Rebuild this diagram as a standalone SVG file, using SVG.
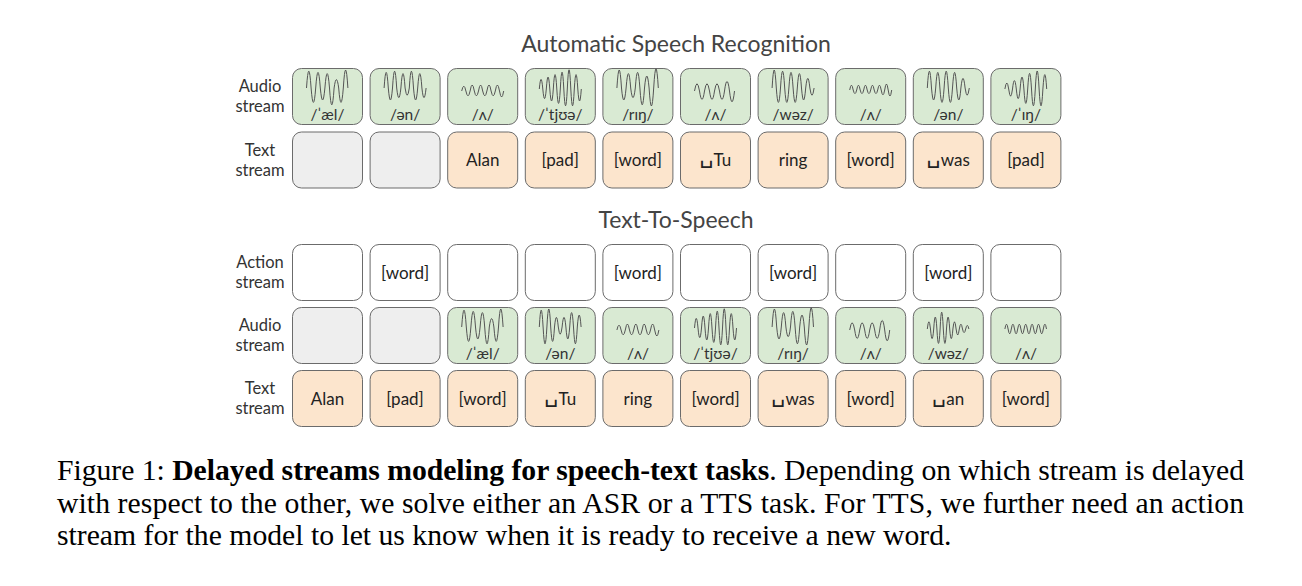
<svg xmlns="http://www.w3.org/2000/svg" xmlns:xlink="http://www.w3.org/1999/xlink" width="1302" height="586" viewBox="0 0 1302 586">
<style>
.box{stroke:#6b6b6b;stroke-width:1}
.g{fill:#d9ead3}.e{fill:#eeeeee}.o{fill:#fce5cd}.w{fill:#ffffff}
.t{font-family:Lato,"DejaVu Sans",sans-serif;font-size:17px;fill:#222;text-anchor:middle}
.sp{font-family:"DejaVu Sans",sans-serif;font-size:22px}
.ipa{font-family:Lato,"DejaVu Sans",sans-serif;font-size:15.5px;fill:#333;text-anchor:middle}
.lbl{font-family:Lato,"DejaVu Sans",sans-serif;font-size:16.5px;fill:#333;text-anchor:middle}
.title{font-family:Lato,"DejaVu Sans",sans-serif;font-size:23px;fill:#444;text-anchor:middle}
.wv{fill:none;stroke:#555;stroke-width:1;vector-effect:non-scaling-stroke}
.cap{font-family:"Liberation Serif","Times New Roman",serif;font-size:29.7px;fill:#000}
</style>
<defs>
<path id="w1" class="wv" d="M0,0 q2.3,-28 4.6,0 q2.3,24 4.6,0 q2.3,-26 4.6,0 q2.3,20 4.6,0 q2.3,-24 4.6,0 q2.3,28 4.6,0 q2.3,-14 4.6,0 q2.3,24 4.6,0 q2.3,-30 4.6,0"/>
<path id="w2" class="wv" d="M0,0 q2.1,-26 4.2,0 q2.1,20 4.2,0 q2.1,-28 4.2,0 q2.1,16 4.2,0 q2.1,-24 4.2,0 q2.1,12 4.2,0 q2.1,-28 4.2,0 q2.1,20 4.2,0 q2.1,-24 4.2,0 q2.1,16 4.2,0"/>
<path id="w3" class="wv" d="M0,0 q2.1,-8 4.2,0 q2.1,8 4.2,0 q2.1,-10 4.2,0 q2.1,8 4.2,0 q2.1,-10 4.2,0 q2.1,8 4.2,0 q2.1,-10 4.2,0 q2.1,8 4.2,0 q2.1,-10 4.2,0 q2.1,10 4.2,0"/>
<path id="w4" class="wv" d="M0,0 q1.75,-16 3.5,0 q1.75,16 3.5,0 q1.75,-20 3.5,0 q1.75,20 3.5,0 q1.75,-24 3.5,0 q1.75,24 3.5,0 q1.75,-28 3.5,0 q1.75,28 3.5,0 q1.75,-32 3.5,0 q1.75,28 3.5,0 q1.75,-24 3.5,0 q1.75,20 3.5,0"/>
<path id="w5" class="wv" d="M0,0 q2.3,-30 4.6,0 q2.3,20 4.6,0 q2.3,-24 4.6,0 q2.3,16 4.6,0 q2.3,-26 4.6,0 q2.3,28 4.6,0 q2.3,-20 4.6,0 q2.3,30 4.6,0 q2.3,-32 4.6,0"/>
<path id="w6" class="wv" d="M0,0 q2.5,-12 5,0 q2.5,14 5,0 q2.5,-12 5,0 q2.5,14 5,0 q2.5,-12 5,0 q2.5,14 5,0 q2.5,-16 5,0 q2.5,18 5,0"/>
<path id="w7" class="wv" d="M0,0 q2.1,-30 4.2,0 q2.1,24 4.2,0 q2.1,-28 4.2,0 q2.1,24 4.2,0 q2.1,-26 4.2,0 q2.1,24 4.2,0 q2.1,-24 4.2,0 q2.1,20 4.2,0 q2.1,-16 4.2,0 q2.1,12 4.2,0"/>
<path id="w8" class="wv" d="M0,0 q1.75,-8 3.5,0 q1.75,6 3.5,0 q1.75,-8 3.5,0 q1.75,6 3.5,0 q1.75,-8 3.5,0 q1.75,6 3.5,0 q1.75,-8 3.5,0 q1.75,6 3.5,0 q1.75,-8 3.5,0 q1.75,8 3.5,0 q1.75,-10 3.5,0 q1.75,10 3.5,0"/>
<path id="w9" class="wv" d="M0,0 q2.1,-28 4.2,0 q2.1,20 4.2,0 q2.1,-26 4.2,0 q2.1,24 4.2,0 q2.1,-28 4.2,0 q2.1,24 4.2,0 q2.1,-26 4.2,0 q2.1,20 4.2,0 q2.1,-16 4.2,0 q2.1,12 4.2,0"/>
<path id="w10" class="wv" d="M0,0 q1.9,-10 3.8,0 q1.9,12 3.8,0 q1.9,-14 3.8,0 q1.9,16 3.8,0 q1.9,-20 3.8,0 q1.9,24 3.8,0 q1.9,-26 3.8,0 q1.9,28 3.8,0 q1.9,-30 3.8,0 q1.9,28 3.8,0 q1.9,-24 3.8,0"/>
<path id="t4" class="wv" d="M0,0 q1.9,-28 3.8,0 q1.9,28 3.8,0 q1.9,-30 3.8,0 q1.9,24 3.8,0 q1.9,-16 3.8,0 q1.9,12 3.8,0 q1.9,-16 3.8,0 q1.9,20 3.8,0 q1.9,-24 3.8,0 q1.9,28 3.8,0 q1.9,-20 3.8,0"/>
<path id="t9" class="wv" d="M0,0 q1.6,-12 3.2,0 q1.6,16 3.2,0 q1.6,-20 3.2,0 q1.6,24 3.2,0 q1.6,-28 3.2,0 q1.6,24 3.2,0 q1.6,-20 3.2,0 q1.6,16 3.2,0 q1.6,-12 3.2,0 q1.6,10 3.2,0 q1.6,-8 3.2,0 q1.6,6 3.2,0 q1.6,-6 3.2,0"/>
<path id="t10" class="wv" d="M0,0 q1.6,-8 3.2,0 q1.6,8 3.2,0 q1.6,-8 3.2,0 q1.6,8 3.2,0 q1.6,-8 3.2,0 q1.6,8 3.2,0 q1.6,-8 3.2,0 q1.6,8 3.2,0 q1.6,-8 3.2,0 q1.6,8 3.2,0 q1.6,-8 3.2,0 q1.6,8 3.2,0 q1.6,-8 3.2,0"/>
</defs>
<rect width="1302" height="586" fill="#ffffff"/>

<text class="title" x="676" y="52">Automatic Speech Recognition</text>
<text class="title" x="676" y="228">Text-To-Speech</text>

<g id="labels">
<text class="lbl" x="260" y="92">Audio</text><text class="lbl" x="260" y="112">stream</text>
<text class="lbl" x="260" y="156">Text</text><text class="lbl" x="260" y="176">stream</text>
<text class="lbl" x="260" y="268">Action</text><text class="lbl" x="260" y="288">stream</text>
<text class="lbl" x="260" y="331">Audio</text><text class="lbl" x="260" y="351">stream</text>
<text class="lbl" x="260" y="394">Text</text><text class="lbl" x="260" y="414">stream</text>
</g>

<!-- ASR audio row -->
<g id="asr-audio-1"><rect class="box g" x="292.5" y="68.5" width="70" height="56" rx="9"/><use xlink:href="#w1" transform="translate(306.5,88) scale(1,1.2)"/><text class="ipa" x="327.5" y="120">/ˈæl/</text></g>
<g id="asr-audio-2"><rect class="box g" x="370.1" y="68.5" width="70" height="56" rx="9"/><use xlink:href="#w2" transform="translate(384.1,88) scale(1,1.2)"/><text class="ipa" x="405.1" y="120">/ən/</text></g>
<g id="asr-audio-3"><rect class="box g" x="447.7" y="68.5" width="70" height="56" rx="9"/><use xlink:href="#w3" transform="translate(461.7,91) scale(1,1.2)"/><text class="ipa" x="482.7" y="120">/ʌ/</text></g>
<g id="asr-audio-4"><rect class="box g" x="525.3" y="68.5" width="70" height="56" rx="9"/><use xlink:href="#w4" transform="translate(539.3,89) scale(1,1.2)"/><text class="ipa" x="560.3" y="120">/ˈtjʊə/</text></g>
<g id="asr-audio-5"><rect class="box g" x="602.9" y="68.5" width="70" height="56" rx="9"/><use xlink:href="#w5" transform="translate(616.9,88) scale(1,1.2)"/><text class="ipa" x="637.9" y="120">/rɪŋ/</text></g>
<g id="asr-audio-6"><rect class="box g" x="680.5" y="68.5" width="70" height="56" rx="9"/><use xlink:href="#w6" transform="translate(694.5,91) scale(1,1.2)"/><text class="ipa" x="715.5" y="120">/ʌ/</text></g>
<g id="asr-audio-7"><rect class="box g" x="758.1" y="68.5" width="70" height="56" rx="9"/><use xlink:href="#w7" transform="translate(772.1,88) scale(1,1.2)"/><text class="ipa" x="793.1" y="120">/wəz/</text></g>
<g id="asr-audio-8"><rect class="box g" x="835.7" y="68.5" width="70" height="56" rx="9"/><use xlink:href="#w8" transform="translate(849.7,90) scale(1,1.2)"/><text class="ipa" x="870.7" y="120">/ʌ/</text></g>
<g id="asr-audio-9"><rect class="box g" x="913.3" y="68.5" width="70" height="56" rx="9"/><use xlink:href="#w9" transform="translate(927.3,88) scale(1,1.2)"/><text class="ipa" x="948.3" y="120">/ən/</text></g>
<g id="asr-audio-10"><rect class="box g" x="990.9" y="68.5" width="70" height="56" rx="9"/><use xlink:href="#w10" transform="translate(1004.9,89) scale(1,1.2)"/><text class="ipa" x="1025.9" y="120">/ˈɪŋ/</text></g>

<!-- ASR text row -->
<g id="asr-text-1"><rect class="box e" x="292.5" y="132" width="70" height="56" rx="9"/></g>
<g id="asr-text-2"><rect class="box e" x="370.1" y="132" width="70" height="56" rx="9"/></g>
<g id="asr-text-3"><rect class="box o" x="447.7" y="132" width="70" height="56" rx="9"/><text class="t" x="482.7" y="166">Alan</text></g>
<g id="asr-text-4"><rect class="box o" x="525.3" y="132" width="70" height="56" rx="9"/><text class="t" x="560.3" y="166">[pad]</text></g>
<g id="asr-text-5"><rect class="box o" x="602.9" y="132" width="70" height="56" rx="9"/><text class="t" x="637.9" y="166">[word]</text></g>
<g id="asr-text-6"><rect class="box o" x="680.5" y="132" width="70" height="56" rx="9"/><text class="t" x="715.5" y="166"><tspan class="sp" dy="-3">␣</tspan><tspan dy="3">Tu</tspan></text></g>
<g id="asr-text-7"><rect class="box o" x="758.1" y="132" width="70" height="56" rx="9"/><text class="t" x="793.1" y="166">ring</text></g>
<g id="asr-text-8"><rect class="box o" x="835.7" y="132" width="70" height="56" rx="9"/><text class="t" x="870.7" y="166">[word]</text></g>
<g id="asr-text-9"><rect class="box o" x="913.3" y="132" width="70" height="56" rx="9"/><text class="t" x="948.3" y="166"><tspan class="sp" dy="-3">␣</tspan><tspan dy="3">was</tspan></text></g>
<g id="asr-text-10"><rect class="box o" x="990.9" y="132" width="70" height="56" rx="9"/><text class="t" x="1025.9" y="166">[pad]</text></g>

<!-- TTS action row -->
<g id="tts-action-1"><rect class="box w" x="292.5" y="244.5" width="70" height="56" rx="9"/></g>
<g id="tts-action-2"><rect class="box w" x="370.1" y="244.5" width="70" height="56" rx="9"/><text class="t" x="405.1" y="278.5">[word]</text></g>
<g id="tts-action-3"><rect class="box w" x="447.7" y="244.5" width="70" height="56" rx="9"/></g>
<g id="tts-action-4"><rect class="box w" x="525.3" y="244.5" width="70" height="56" rx="9"/></g>
<g id="tts-action-5"><rect class="box w" x="602.9" y="244.5" width="70" height="56" rx="9"/><text class="t" x="637.9" y="278.5">[word]</text></g>
<g id="tts-action-6"><rect class="box w" x="680.5" y="244.5" width="70" height="56" rx="9"/></g>
<g id="tts-action-7"><rect class="box w" x="758.1" y="244.5" width="70" height="56" rx="9"/><text class="t" x="793.1" y="278.5">[word]</text></g>
<g id="tts-action-8"><rect class="box w" x="835.7" y="244.5" width="70" height="56" rx="9"/></g>
<g id="tts-action-9"><rect class="box w" x="913.3" y="244.5" width="70" height="56" rx="9"/><text class="t" x="948.3" y="278.5">[word]</text></g>
<g id="tts-action-10"><rect class="box w" x="990.9" y="244.5" width="70" height="56" rx="9"/></g>

<!-- TTS audio row -->
<g id="tts-audio-1"><rect class="box e" x="292.5" y="307.5" width="70" height="56" rx="9"/></g>
<g id="tts-audio-2"><rect class="box e" x="370.1" y="307.5" width="70" height="56" rx="9"/></g>
<g id="tts-audio-3"><rect class="box g" x="447.7" y="307.5" width="70" height="56" rx="9"/><use xlink:href="#w1" transform="translate(461.7,327) scale(1,1.2)"/><text class="ipa" x="482.7" y="359">/ˈæl/</text></g>
<g id="tts-audio-4"><rect class="box g" x="525.3" y="307.5" width="70" height="56" rx="9"/><use xlink:href="#t4" transform="translate(539.3,327) scale(1,1.2)"/><text class="ipa" x="560.3" y="359">/ən/</text></g>
<g id="tts-audio-5"><rect class="box g" x="602.9" y="307.5" width="70" height="56" rx="9"/><use xlink:href="#w3" transform="translate(616.9,330) scale(1,1.2)"/><text class="ipa" x="637.9" y="359">/ʌ/</text></g>
<g id="tts-audio-6"><rect class="box g" x="680.5" y="307.5" width="70" height="56" rx="9"/><use xlink:href="#w4" transform="translate(694.5,328) scale(1,1.2)"/><text class="ipa" x="715.5" y="359">/ˈtjʊə/</text></g>
<g id="tts-audio-7"><rect class="box g" x="758.1" y="307.5" width="70" height="56" rx="9"/><use xlink:href="#w5" transform="translate(772.1,327) scale(1,1.2)"/><text class="ipa" x="793.1" y="359">/rɪŋ/</text></g>
<g id="tts-audio-8"><rect class="box g" x="835.7" y="307.5" width="70" height="56" rx="9"/><use xlink:href="#w6" transform="translate(849.7,330) scale(1,1.2)"/><text class="ipa" x="870.7" y="359">/ʌ/</text></g>
<g id="tts-audio-9"><rect class="box g" x="913.3" y="307.5" width="70" height="56" rx="9"/><use xlink:href="#t9" transform="translate(927.3,329) scale(1,1.2)"/><text class="ipa" x="948.3" y="359">/wəz/</text></g>
<g id="tts-audio-10"><rect class="box g" x="990.9" y="307.5" width="70" height="56" rx="9"/><use xlink:href="#t10" transform="translate(1004.9,329) scale(1,1.2)"/><text class="ipa" x="1025.9" y="359">/ʌ/</text></g>

<!-- TTS text row -->
<g id="tts-text-1"><rect class="box o" x="292.5" y="370.5" width="70" height="56" rx="9"/><text class="t" x="327.5" y="404.5">Alan</text></g>
<g id="tts-text-2"><rect class="box o" x="370.1" y="370.5" width="70" height="56" rx="9"/><text class="t" x="405.1" y="404.5">[pad]</text></g>
<g id="tts-text-3"><rect class="box o" x="447.7" y="370.5" width="70" height="56" rx="9"/><text class="t" x="482.7" y="404.5">[word]</text></g>
<g id="tts-text-4"><rect class="box o" x="525.3" y="370.5" width="70" height="56" rx="9"/><text class="t" x="560.3" y="404.5"><tspan class="sp" dy="-3">␣</tspan><tspan dy="3">Tu</tspan></text></g>
<g id="tts-text-5"><rect class="box o" x="602.9" y="370.5" width="70" height="56" rx="9"/><text class="t" x="637.9" y="404.5">ring</text></g>
<g id="tts-text-6"><rect class="box o" x="680.5" y="370.5" width="70" height="56" rx="9"/><text class="t" x="715.5" y="404.5">[word]</text></g>
<g id="tts-text-7"><rect class="box o" x="758.1" y="370.5" width="70" height="56" rx="9"/><text class="t" x="793.1" y="404.5"><tspan class="sp" dy="-3">␣</tspan><tspan dy="3">was</tspan></text></g>
<g id="tts-text-8"><rect class="box o" x="835.7" y="370.5" width="70" height="56" rx="9"/><text class="t" x="870.7" y="404.5">[word]</text></g>
<g id="tts-text-9"><rect class="box o" x="913.3" y="370.5" width="70" height="56" rx="9"/><text class="t" x="948.3" y="404.5"><tspan class="sp" dy="-3">␣</tspan><tspan dy="3">an</tspan></text></g>
<g id="tts-text-10"><rect class="box o" x="990.9" y="370.5" width="70" height="56" rx="9"/><text class="t" x="1025.9" y="404.5">[word]</text></g>

<g id="connectors"></g>

<g id="caption">
<text class="cap" x="57" y="480" textLength="1187" lengthAdjust="spacing">Figure 1: <tspan font-weight="bold">Delayed streams modeling for speech-text tasks</tspan>. Depending on which stream is delayed</text>
<text class="cap" x="57" y="513" textLength="1187" lengthAdjust="spacing">with respect to the other, we solve either an ASR or a TTS task. For TTS, we further need an action</text>
<text class="cap" x="57" y="545">stream for the model to let us know when it is ready to receive a new word.</text>
</g>
</svg>
